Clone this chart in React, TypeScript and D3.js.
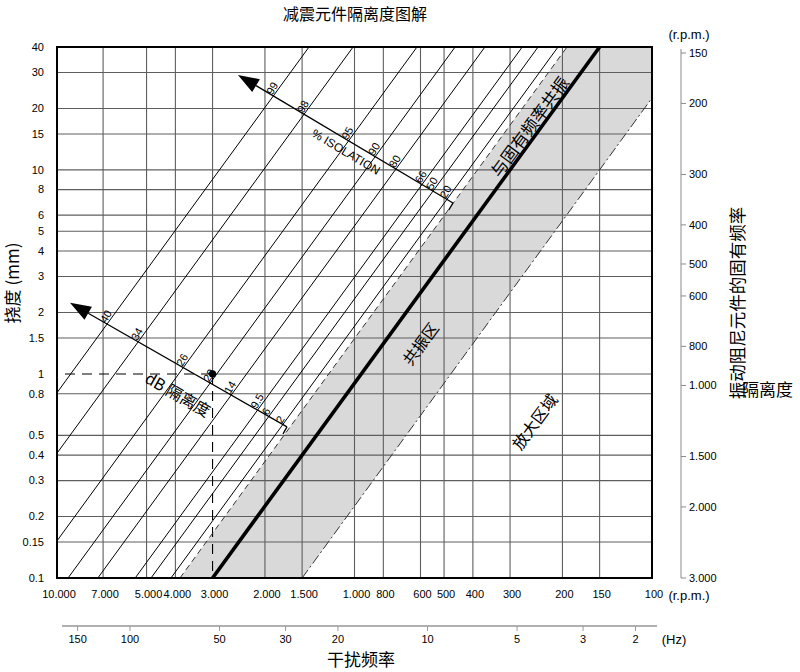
import * as d3 from 'd3'

const W = 800
const H = 672
const plot = { left: 57, right: 652, top: 47, bottom: 578 }

// 干扰频率 (r.p.m.) ticks, deflection ticks, Hz ticks, natural frequency ticks
const rpmTicks = [10000, 7000, 5000, 4000, 3000, 2000, 1500, 1000, 800, 600, 500, 400, 300, 200, 150, 100]
const hzTicks = [150, 100, 50, 30, 20, 10, 5, 3, 2]
const mmTicks = [40, 30, 20, 15, 10, 8, 6, 5, 4, 3, 2, 1.5, 1, 0.8, 0.5, 0.4, 0.3, 0.2, 0.15, 0.1]
const natTicks = [150, 200, 300, 400, 500, 600, 800, 1000, 1500, 2000, 3000]

// isolation lines: ratio disturbing / natural frequency
const isoPct = ['99', '98', '95', '90', '80', '66', '50', '20']
const isoDb = ['40', '34', '26', '20', '14', '9.5', '6', '2']
const isoRatio = [9.48, 6.74, 4.11, 3.06, 2.43, 1.82, 1.61, 1.38]
const bandLow = 1.287
const bandHigh = 0.5
const resonance = 1

// example point: 3000 rpm at 1 mm
const exampleRpm = 3000
const exampleMm = 1

// arrows, [rpm, mm] of the tail and the tip
const isoArrow = [[466.7, 6.88], [2464, 29.2]]
const dbArrow = [[1686, 0.55], [9044, 2.23]]

// region labels [rpm, mm]
const resonanceLabel = [257, 16.2]
const resZoneLabel = [598, 1.4]
const ampZoneLabel = [247, 0.581]

const tickFont = "'Liberation Sans Narrow', 'Liberation Sans', Arial, sans-serif"
const cjkFont = "'Noto Sans CJK SC', sans-serif"

// natural frequency (rpm) for a static deflection in mm
const fn = (mm: number) => 3000 * Math.sqrt(0.1 / mm)

const fmt = (v: number) => (v >= 1000 ? d3.format(',')(v).replace(',', '.') : String(v))

type Pt = [number, number]

const intersect = (a: Pt, b: Pt, c: Pt, d: Pt): Pt => {
    const d1x = b[0] - a[0], d1y = b[1] - a[1]
    const d2x = d[0] - c[0], d2y = d[1] - c[1]
    const den = d1x * d2y - d1y * d2x
    const t = ((c[0] - a[0]) * d2y - (c[1] - a[1]) * d2x) / den
    return [a[0] + t * d1x, a[1] + t * d1y]
}

const App = () => {
    const x = d3.scaleLog().domain([10000, 100]).range([plot.left, plot.right])
    const y = d3.scaleLog().domain([0.1, 40]).range([plot.bottom, plot.top])
    const xHz = d3.scaleLog().domain([10000 / 60, 100 / 60]).range([plot.left + 7, plot.right + 7])
    const yNat = d3.scaleLog().domain([150, 3000]).range([53, plot.bottom])

    const linePts = (r: number): [Pt, Pt] => [
        [x(r * fn(0.1)), y(0.1)],
        [x(r * fn(40)), y(40)],
    ]
    const line = d3.line()

    const lo = linePts(bandLow)
    const hi = linePts(bandHigh)
    const band = [lo[0], lo[1], hi[1], hi[0]] as Pt[]

    const angleOf = (s: Pt, e: Pt) => (Math.atan2(e[1] - s[1], e[0] - s[0]) * 180) / Math.PI

    const arrow = (def: number[][], labels: string[], key: string) => {
        const tail: Pt = [x(def[0][0]), y(def[0][1])]
        const tip: Pt = [x(def[1][0]), y(def[1][1])]
        const len = Math.hypot(tip[0] - tail[0], tip[1] - tail[1])
        const u = [(tip[0] - tail[0]) / len, (tip[1] - tail[1]) / len]
        const n = [-u[1], u[0]]
        const down = n[1] > 0 ? n : [-n[0], -n[1]]
        const base: Pt = [tip[0] - u[0] * 21, tip[1] - u[1] * 21]
        const head = [
            tip,
            [base[0] + n[0] * 7.5, base[1] + n[1] * 7.5],
            [base[0] - n[0] * 7.5, base[1] - n[1] * 7.5],
        ] as Pt[]
        const marks = isoRatio.map((r, i) => {
            const [p, q] = linePts(r)
            const c = intersect(tail, tip, p, q)
            return (
                <text
                    key={i}
                    transform={`translate(${c[0]},${c[1]}) rotate(-60)`}
                    fontSize={11}
                    fontFamily={tickFont}
                    dx={0}
                    dy={-1}
                >
                    {labels[i]}
                </text>
            )
        })
        return (
            <g key={key}>
                <path d={line([tail, base]) as string} stroke="#000" strokeWidth={1.3} fill="none" />
                <path d={line([tail, [tail[0] + down[0] * 8, tail[1] + down[1] * 8]]) as string} stroke="#000" strokeWidth={1.3} />
                <path d={(line(head) as string) + 'Z'} fill="#000" />
                {marks}
            </g>
        )
    }

    const along = (def: number[][], t: number): [Pt, number] => {
        const tail: Pt = [x(def[0][0]), y(def[0][1])]
        const tip: Pt = [x(def[1][0]), y(def[1][1])]
        return [[tip[0] + (tail[0] - tip[0]) * t, tip[1] + (tail[1] - tip[1]) * t], angleOf(tip, tail)]
    }

    const [isoMid, isoAng] = along(isoArrow, 0.528)
    const [dbMid, dbAng] = along(dbArrow, 0.557)
    const resAng = angleOf(linePts(resonance)[0], linePts(resonance)[1])

    const regionText = (pos: number[], label: string, size: number) => (
        <text
            transform={`translate(${x(pos[0])},${y(pos[1])}) rotate(${resAng})`}
            textAnchor="middle"
            dy="0.35em"
            fontSize={size}
            fontFamily={cjkFont}
        >
            {label}
        </text>
    )

    const ex = x(exampleRpm)
    const ey = y(exampleMm)

    return (
        <svg width={W} height={H} style={{ display: 'block', position: 'absolute', left: 0, top: 0 }}>
            <defs>
                <clipPath id="plotClip">
                    <rect x={plot.left} y={plot.top} width={plot.right - plot.left} height={plot.bottom - plot.top} />
                </clipPath>
            </defs>
            <rect width={W} height={H} fill="#fff" />

            <text x={355} y={20} textAnchor="middle" fontSize={16} fontFamily={cjkFont}>
                减震元件隔离度图解
            </text>

            <g clipPath="url(#plotClip)">
                <path d={(line(band) as string) + 'Z'} fill="#d9d9d9" />

                {/* grid */}
                {mmTicks.slice(1, -1).map((v) => (
                    <line
                        key={'h' + v}
                        x1={v === exampleMm ? ex : plot.left}
                        x2={plot.right}
                        y1={y(v)}
                        y2={y(v)}
                        stroke="#5e5e5e"
                        strokeWidth={1.1}
                    />
                ))}
                {rpmTicks.slice(1, -1).map((v) => (
                    <line
                        key={'v' + v}
                        x1={x(v)}
                        x2={x(v)}
                        y1={plot.top}
                        y2={v === exampleRpm ? ey : plot.bottom}
                        stroke="#5e5e5e"
                        strokeWidth={1.1}
                    />
                ))}
                <line x1={plot.left + 8} x2={ex} y1={ey} y2={ey} stroke="#000" strokeWidth={1.1} strokeDasharray="10 7" />
                <line x1={ex} x2={ex} y1={ey} y2={plot.bottom} stroke="#000" strokeWidth={1.1} strokeDasharray="10 7" />

                {/* isolation lines */}
                {isoRatio.map((r) => (
                    <path key={r} d={line(linePts(r)) as string} stroke="#000" strokeWidth={1} fill="none" />
                ))}
                <path d={line(lo) as string} stroke="#333" strokeWidth={1} strokeDasharray="6 4" fill="none" />
                <path d={line(hi) as string} stroke="#333" strokeWidth={1} strokeDasharray="10 3 2 3" fill="none" />
                <path d={line(linePts(resonance)) as string} stroke="#000" strokeWidth={3.6} fill="none" />
            </g>

            <circle cx={ex} cy={ey} r={3.6} fill="#000" />

            <rect
                x={plot.left}
                y={plot.top}
                width={plot.right - plot.left}
                height={plot.bottom - plot.top}
                fill="none"
                stroke="#000"
                strokeWidth={2}
            />

            {arrow(isoArrow, isoPct, 'iso')}
            {arrow(dbArrow, isoDb, 'db')}

            <text
                transform={`translate(${isoMid[0]},${isoMid[1]}) rotate(${isoAng})`}
                textAnchor="middle"
                dy={15}
                fontSize={12}
                fontFamily="'Liberation Sans', Arial, sans-serif"
            >
                % ISOLATION
            </text>
            <text
                transform={`translate(${dbMid[0]},${dbMid[1]}) rotate(${dbAng})`}
                textAnchor="middle"
                dy={32}
                fontSize={16}
                fontFamily={cjkFont}
            >
                dB 隔离度
            </text>

            {regionText(resonanceLabel, '与固有频率共振', 17)}
            {regionText(resZoneLabel, '共振区', 16)}
            {regionText(ampZoneLabel, '放大区域', 16)}

            {/* left axis */}
            {mmTicks.map((v) => (
                <text key={v} x={44} y={y(v)} dy="0.35em" textAnchor="end" fontSize={11} fontFamily={tickFont}>
                    {String(v)}
                </text>
            ))}
            <text transform={`translate(13,283) rotate(-90)`} textAnchor="middle" dy="0.35em" fontSize={17} fontFamily={cjkFont}>
                挠度 (mm)
            </text>

            {/* bottom rpm axis */}
            {rpmTicks.map((v) => (
                <text key={v} x={x(v) + 2} y={594} dy="0.35em" textAnchor="middle" fontSize={11} fontFamily={tickFont}>
                    {fmt(v)}
                </text>
            ))}
            <text x={689} y={595} dy="0.35em" textAnchor="middle" fontSize={13} fontFamily={tickFont}>
                (r.p.m.)
            </text>

            {/* Hz axis */}
            <line x1={plot.left + 5} x2={plot.right + 5} y1={626} y2={626} stroke="#b0b0b0" strokeWidth={2} />
            {hzTicks.map((v) => (
                <g key={v}>
                    <line x1={xHz(v)} x2={xHz(v)} y1={626} y2={631} stroke="#999" strokeWidth={1} />
                    <text x={xHz(v)} y={639} dy="0.35em" textAnchor="middle" fontSize={11} fontFamily={tickFont}>
                        {v}
                    </text>
                </g>
            ))}
            <text x={674} y={639} dy="0.35em" textAnchor="middle" fontSize={13} fontFamily={tickFont}>
                (Hz)
            </text>
            <text x={361} y={660} dy="0.35em" textAnchor="middle" fontSize={17} fontFamily={cjkFont}>
                干扰频率
            </text>

            {/* right natural frequency axis */}
            <line x1={681} x2={681} y1={49} y2={plot.bottom} stroke="#8a8a8a" strokeWidth={1} />
            {natTicks.map((v) => (
                <g key={v}>
                    <line x1={681} x2={686} y1={yNat(v)} y2={yNat(v)} stroke="#8a8a8a" strokeWidth={1} />
                    <text x={689} y={yNat(v)} dy="0.35em" fontSize={11} fontFamily={tickFont}>
                        {fmt(v)}
                    </text>
                </g>
            ))}
            <text x={689} y={34} dy="0.35em" textAnchor="middle" fontSize={13} fontFamily={tickFont}>
                (r.p.m.)
            </text>
            <text transform={`translate(738,303) rotate(-90)`} textAnchor="middle" dy="0.35em" fontSize={17.5} fontFamily={cjkFont}>
                振动阻尼元件的固有频率
            </text>
            <text x={742} y={396} fontSize={17} fontFamily={cjkFont}>
                隔离度
            </text>
        </svg>
    )
}

export default App
